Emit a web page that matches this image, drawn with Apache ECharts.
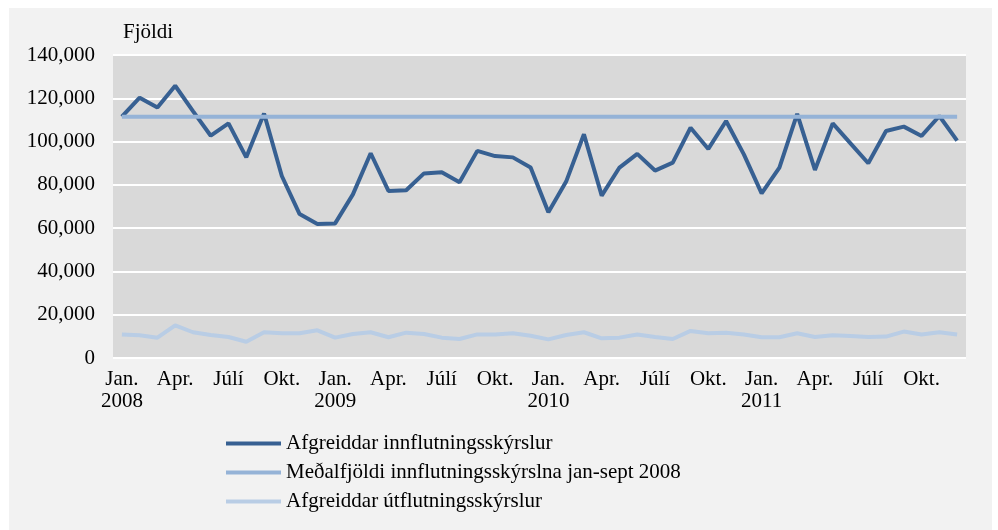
<!DOCTYPE html>
<html>
<head>
<meta charset="utf-8">
<script src="https://cdn.jsdelivr.net/npm/echarts@6/dist/echarts.min.js"></script>
<style>
  html, body { margin: 0; padding: 0; background: #ffffff; }
  #frame { position: absolute; left: 9px; top: 8px; width: 983px; height: 522px; background: #f2f2f2; }
  #chart { width: 983px; height: 522px; }
</style>
</head>
<body>
<div id="frame"><div id="chart"></div></div>
<script>
// monthly categories, Jan 2008 - Dec 2011 (only every 3rd label is shown)
const months = [
  'Jan.\n2008', 'Feb.', 'Mar.', 'Apr.', 'Maí', 'Jún.', 'Júlí', 'Ágú.', 'Sep.', 'Okt.', 'Nóv.', 'Des.',
  'Jan.\n2009', 'Feb.', 'Mar.', 'Apr.', 'Maí', 'Jún.', 'Júlí', 'Ágú.', 'Sep.', 'Okt.', 'Nóv.', 'Des.',
  'Jan.\n2010', 'Feb.', 'Mar.', 'Apr.', 'Maí', 'Jún.', 'Júlí', 'Ágú.', 'Sep.', 'Okt.', 'Nóv.', 'Des.',
  'Jan.\n2011', 'Feb.', 'Mar.', 'Apr.', 'Maí', 'Jún.', 'Júlí', 'Ágú.', 'Sep.', 'Okt.', 'Nóv.', 'Des.'
]

const imports = [
  111500, 120300, 115700, 125800, 114100, 102700, 108400, 92700, 113000, 84100, 66500, 61900,
  62200, 75600, 94600, 77200, 77500, 85300, 85800, 81200, 95700, 93300, 92700, 88000,
  67300, 81500, 103400, 75000, 88000, 94300, 86600, 90300, 106400, 96600, 109500, 94100,
  76100, 88000, 112800, 86900, 108400, 99200, 90000, 104900, 106900, 102600, 111800, 100400
]

const exports = [
  10900, 10500, 9400, 15100, 11900, 10600, 9700, 7500, 11900, 11400, 11400, 12800,
  9400, 11100, 11900, 9600, 11700, 11100, 9400, 8800, 10900, 10900, 11400, 10300,
  8600, 10600, 11900, 9100, 9400, 10900, 9700, 8800, 12500, 11400, 11700, 10900,
  9600, 9600, 11400, 9700, 10500, 10200, 9700, 9900, 12200, 10900, 11900, 10900
]

// average number of import declarations Jan-Sept 2008
const avgImports2008 = 111500

const yTicks = { min: 0, max: 140000, interval: 20000 }

const seriesNames = [
  'Afgreiddar innflutningsskýrslur',
  'Meðalfjöldi innflutningsskýrslna jan-sept 2008',
  'Afgreiddar útflutningsskýrslur'
]

const font = '"Liberation Serif", "DejaVu Serif", serif'

const chart = echarts.init(document.getElementById('chart'))

chart.setOption({
  animation: false,
  backgroundColor: '#f2f2f2',
  textStyle: { fontFamily: font },
  title: {
    text: 'Fjöldi',
    left: 114,
    top: 14,
    padding: 0,
    textStyle: { fontFamily: font, fontSize: 21, fontWeight: 'normal', color: '#000' }
  },
  grid: { left: 104, right: 26, top: 47, bottom: 172 },
  legend: {
    orient: 'vertical',
    left: 217,
    top: 425,
    padding: 0,
    itemWidth: 55,
    itemHeight: 4,
    itemGap: 8,
    icon: 'rect',
    data: seriesNames,
    textStyle: { fontFamily: font, fontSize: 21, color: '#000', lineHeight: 21 }
  },
  xAxis: {
    type: 'category',
    data: months,
    boundaryGap: true,
    axisLine: { show: false },
    axisTick: { show: false },
    axisLabel: {
      interval: 2,
      margin: 10,
      color: '#000',
      fontFamily: font,
      fontSize: 21,
      lineHeight: 22
    }
  },
  yAxis: {
    type: 'value',
    min: yTicks.min,
    max: yTicks.max,
    interval: yTicks.interval,
    axisLine: { show: false },
    axisTick: { show: false },
    splitLine: { lineStyle: { color: '#ffffff', width: 2 } },
    splitArea: { show: true, areaStyle: { color: ['#d9d9d9'] } },
    axisLabel: {
      margin: 18,
      color: '#000',
      fontFamily: font,
      fontSize: 21,
      formatter: v => v.toLocaleString('en-US')
    }
  },
  series: [
    {
      name: seriesNames[0],
      type: 'line',
      data: imports,
      symbol: 'none',
      color: '#376092',
      lineStyle: { color: '#376092', width: 4 }
    },
    {
      name: seriesNames[1],
      type: 'line',
      data: months.map(() => avgImports2008),
      symbol: 'none',
      color: '#95b3d7',
      lineStyle: { color: '#95b3d7', width: 4 }
    },
    {
      name: seriesNames[2],
      type: 'line',
      data: exports,
      symbol: 'none',
      color: '#b9cde5',
      lineStyle: { color: '#b9cde5', width: 4 }
    }
  ]
})
</script>
</body>
</html>
